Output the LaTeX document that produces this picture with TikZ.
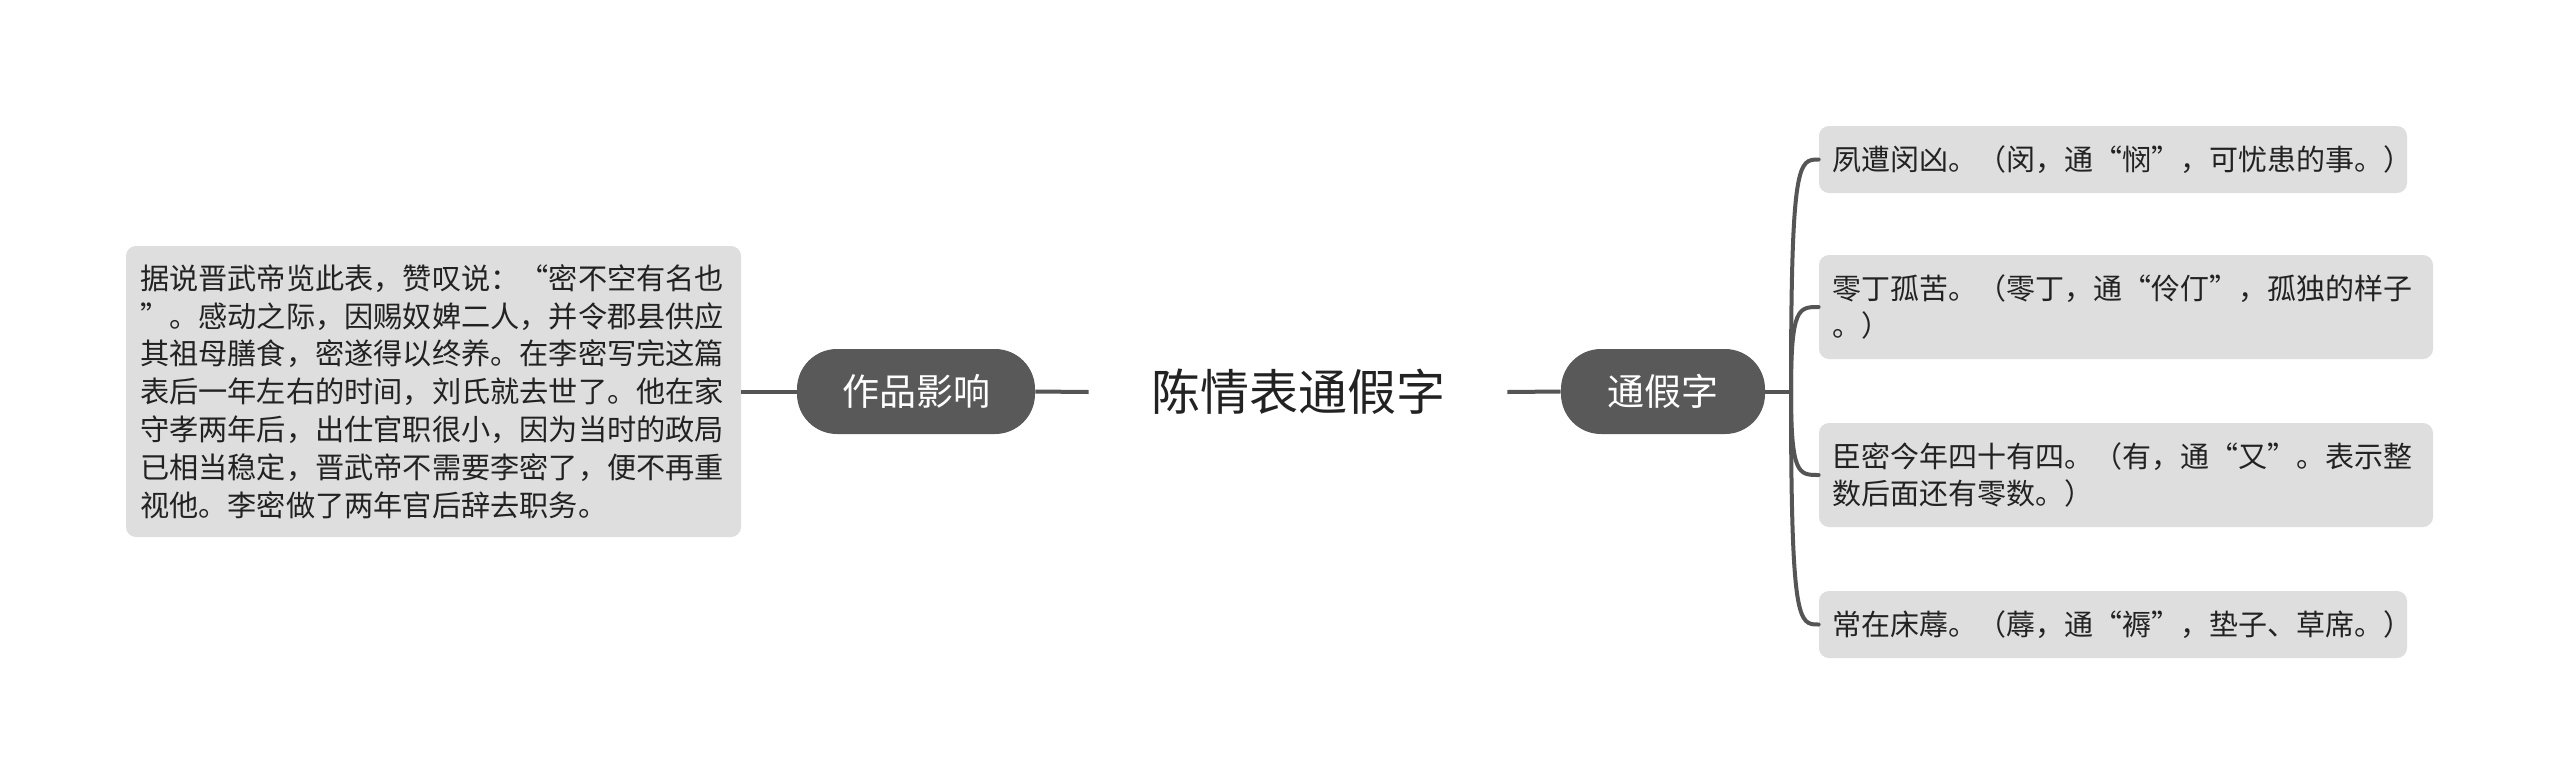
\documentclass[tikz,border=0pt]{standalone}
\usepackage{fontspec}
\setmainfont{Noto Sans CJK SC}
\definecolor{pillc}{HTML}{595959}
\definecolor{boxc}{HTML}{DEDEDE}
\definecolor{linec}{HTML}{555555}
\definecolor{txtc}{HTML}{222222}
\begin{document}
\begin{tikzpicture}[x=0.5pt,y=-0.5pt,
  pill/.style={fill=pillc, draw=none, rounded corners=20pt, text=white,
    font=\fontsize{18.5}{22}\selectfont, minimum height=42.5pt, inner sep=0pt},
  leafbox/.style={fill=boxc, draw=none, rounded corners=5pt, text=txtc,
    font=\fontsize{14.5}{18.5}\selectfont, align=left, inner xsep=6.5pt, inner ysep=0pt},
  conn/.style={draw=linec, line width=2pt}]
\fill[white] (0,0) rectangle (2560,783);
\useasboundingbox (0,0) rectangle (2560,783);

\node[font=\fontsize{24.5}{28}\selectfont, text=txtc, minimum width=209pt, inner sep=0pt] (title) at (1298,392) {陈情表通假字};

\node[pill, minimum width=119pt] (effect) at (916,391.5) {作品影响};
\node[pill, minimum width=102pt] (tjz) at (1663,391.5) {通假字};

\node[leafbox, fill=boxc, text width=293.5pt, minimum height=145.5pt, inner xsep=7pt,
  font=\fontsize{14.6}{18.9}\selectfont] (left) at (433.5,391.5)
  {据说晋武帝览此表，赞叹说：“密不空有名也\\”。感动之际，因赐奴婢二人，并令郡县供应\\其祖母膳食，密遂得以终养。在李密写完这篇\\表后一年左右的时间，刘氏就去世了。他在家\\守孝两年后，出仕官职很小，因为当时的政局\\已相当稳定，晋武帝不需要李密了，便不再重\\视他。李密做了两年官后辞去职务。};

\node[leafbox, text width=281pt, minimum height=33.5pt] (r1) at (2113,159.5) {夙遭闵凶。（闵，通“悯”，可忧患的事。）};
\node[leafbox, text width=294pt, minimum height=52pt] (r2) at (2126,307) {零丁孤苦。（零丁，通“伶仃”，孤独的样子\\。）};
\node[leafbox, text width=294pt, minimum height=52pt] (r3) at (2126,475) {臣密今年四十有四。（有，通“又”。表示整\\数后面还有零数。）};
\node[leafbox, text width=281pt, minimum height=33.5pt] (r4) at (2113,624.5) {常在床蓐。（蓐，通“褥”，垫子、草席。）};

\coordinate (j) at (1791,391.5);

\draw[conn] (left.east) -- (effect.west);
\draw[conn] (effect.east) -- (title.west);
\draw[conn] (title.east) -- (tjz.west);
\draw[conn] (tjz.east) -- (j);
\foreach \n in {r1,r2,r3,r4}{
  \draw[conn, line cap=round] (j) .. controls (j |- \n.west) and ([xshift=-10pt]\n.west) .. (\n.west);
}
\end{tikzpicture}
\end{document}
